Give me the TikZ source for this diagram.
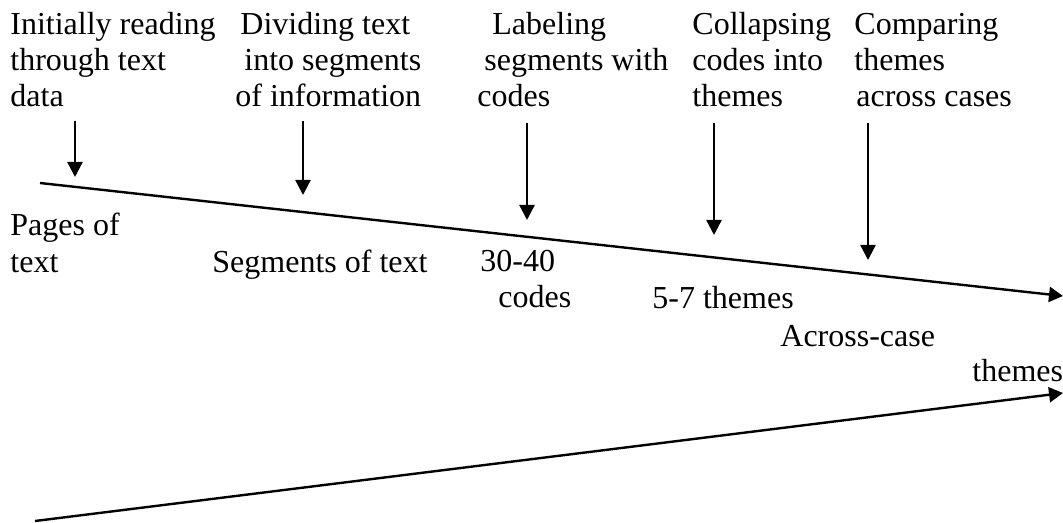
\documentclass[tikz,border=0pt]{standalone}
\usepackage{fontspec}
\setmainfont{Liberation Serif}
\usetikzlibrary{arrows.meta}

\tikzset{
  stage/.style={anchor=base west, align=left, inner sep=0pt, font=\fontsize{16}{18}\selectfont},
  result/.style={stage},
  drop/.style={line width=1.2pt, -{Triangle[length=7.5pt,width=7.5pt]}},
  timeline/.style={line width=1.2pt, -{Triangle[length=7pt,width=7.5pt]}}
}

\begin{document}
\begin{tikzpicture}[x=0.5pt,y=-0.5pt]
\useasboundingbox (0,0) rectangle (1063,523);

% analysis activities (base = last line)
\node[stage] (read) at (10,107) {Initially reading\\through text\\data};
\node[stage] (divide) at (235,107) {\hspace*{2.5pt}Dividing text\\\hspace*{4.5pt}into segments\\of information};
\node[stage] (label) at (477,107) {\hspace*{7.5pt}Labeling\\\hspace*{3.5pt}segments with\\codes};
\node[stage] (collapse) at (692,107) {Collapsing\\codes into\\themes};
\node[stage] (compare) at (854,107) {Comparing\\themes\\\hspace*{1pt}across cases};

% arrows down onto the first line
\coordinate (r1) at (75,121);   \coordinate (r2) at (75,177);
\coordinate (d1) at (303,121);  \coordinate (d2) at (303,195);
\coordinate (l1) at (527,123);  \coordinate (l2) at (527,220);
\coordinate (c1) at (714,123);  \coordinate (c2) at (714,235);
\coordinate (m1) at (868,123);  \coordinate (m2) at (868,260);
\foreach \a in {r,d,l,c,m}
  \draw[drop] (\a1) -- (\a2);

% the two long lines
\coordinate (top start) at (40,183);
\coordinate (top end) at (1063,296);
\coordinate (low start) at (35,521);
\coordinate (low end) at (1063,393);
\draw[timeline] (top start) -- (top end);
\draw[timeline] (low start) -- (low end);

% what each step leaves
\node[result] (pages) at (10,272) {Pages of\\text};
\node[result] (segs) at (212,272) {Segments of text};
\node[result] (codes) at (480,307) {30-40\\\hspace*{9pt}codes};
\node[result] (themes) at (652,308) {5-7 themes};
\node[result] (across) at (780,346) {Across-case};
\node[result] (across2) at (972,381) {themes};
\end{tikzpicture}
\end{document}
